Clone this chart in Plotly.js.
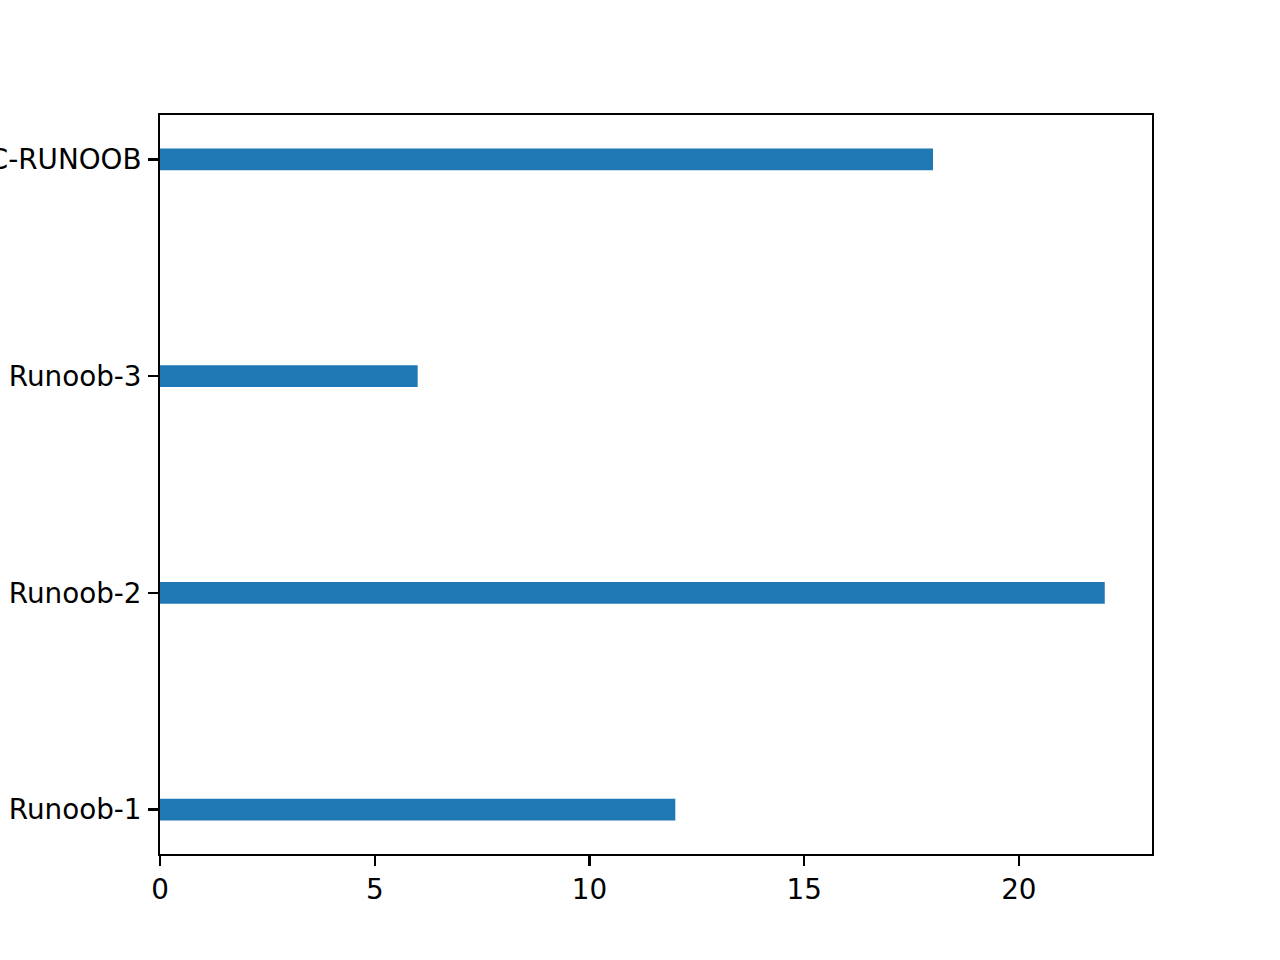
<!DOCTYPE html>
<html>
<head>
<meta charset="utf-8">
<script src="https://cdn.plot.ly/plotly-3.0.1.min.js"></script>
<style>html,body{margin:0;padding:0;background:#fff;}#chart{width:1280px;height:960px;}</style>
</head>
<body>
<div id="chart"></div>
<script>
const categories = ["Runoob-1", "Runoob-2", "Runoob-3", "C-RUNOOB"];
const values = [12, 22, 6, 18];
const xTicks = [0, 5, 10, 15, 20];

const axisCommon = {
  showline: true, mirror: true, linecolor: '#000', linewidth: 2.2,
  ticks: 'outside', ticklen: 9.7, tickwidth: 2.2, tickcolor: '#000',
  showgrid: false, zeroline: false, automargin: false,
  tickfont: {family: 'DejaVu Sans', size: 27.8, color: '#000'}
};

const trace = {
  type: 'bar', orientation: 'h',
  y: categories, x: values, width: 0.1,
  marker: {color: '#1f77b4', line: {width: 0}},
  hoverinfo: 'none'
};

const layout = {
  width: 1280, height: 960,
  margin: {l: 160, r: 128, t: 115, b: 106, pad: 0},
  paper_bgcolor: '#fff', plot_bgcolor: '#fff',
  showlegend: false,
  xaxis: Object.assign({}, axisCommon, {
    range: [0, 23.1], tickmode: 'array', tickvals: xTicks, ticktext: xTicks.map(String),
    ticklabelstandoff: 0
  }),
  yaxis: Object.assign({}, axisCommon, {
    type: 'category', range: [-0.205, 3.205], ticklabelstandoff: 1
  })
};

Plotly.newPlot('chart', [trace], layout, {staticPlot: true, displayModeBar: false});
</script>
</body>
</html>
